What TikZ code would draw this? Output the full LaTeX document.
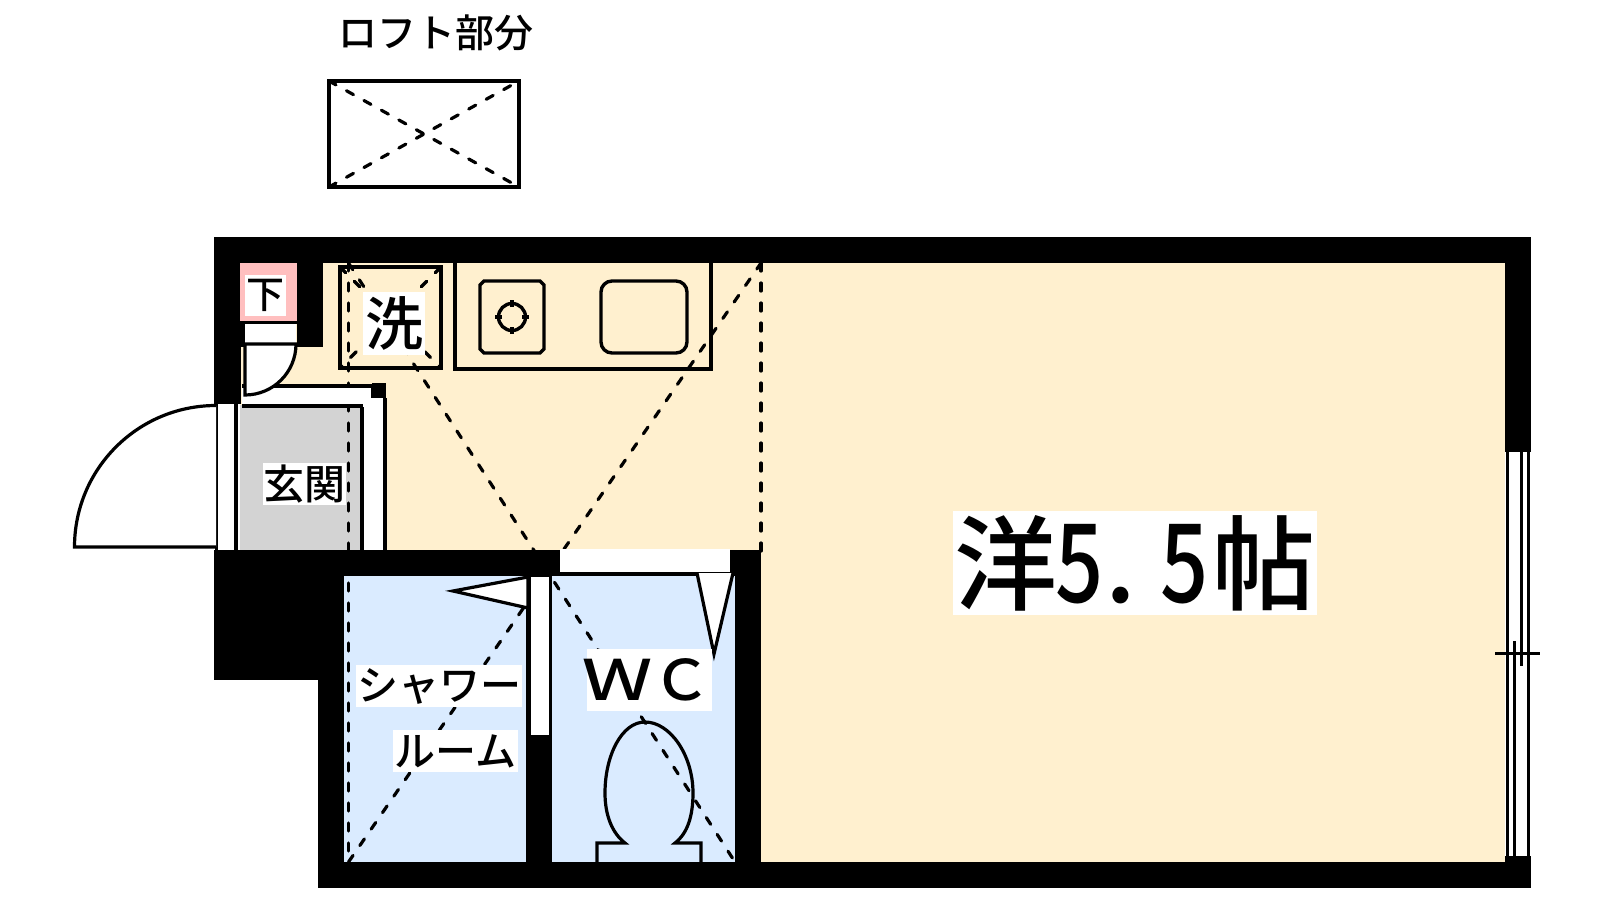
\documentclass[tikz,border=0pt]{standalone}
\usepackage{fontspec}
\setmainfont[UprightFont=* Medium]{Noto Sans CJK JP}
\usetikzlibrary{calc}

\definecolor{roomcream}{HTML}{FFF0CF}
\definecolor{roomblue}{HTML}{DAEBFF}
\definecolor{roompink}{HTML}{FFBFBF}
\definecolor{roomgray}{HTML}{D3D3D3}

\tikzset{
	wall/.style={fill=black},
	planline/.style={line width=3.2pt},
	boxline/.style={line width=3.8pt},
	hiddenline/.style={line width=3.2pt, line cap=round, dash pattern=on 8pt off 12pt},
	roomlabel/.style={fill=white, inner sep=0pt, text=black}
}
\newcommand{\labelsize}[1]{\fontsize{#1}{#1}\selectfont}

\begin{document}
\begin{tikzpicture}[x=1pt, y=-1pt, line join=miter]
		\useasboundingbox (0,0) rectangle (1600,900);
		
		% --- Loft part above the plan ---
		\node[font=\labelsize{39}] (lofttitle) at (436,33) {ロフト部分};
		\coordinate (lofta) at (329,81);
		\coordinate (loftb) at (519,187);
		\draw[hiddenline] (lofta) -- (loftb);
		\draw[hiddenline] (lofta |- loftb) -- (loftb |- lofta);
		\draw[boxline] (lofta) rectangle (loftb);
		
		% --- Floor colours ---
		\fill[roomcream] (240,263) rectangle (1505,552);
		\fill[roomcream] (761,552) rectangle (1505,862);
		\fill[roomblue] (344,576) rectangle (526,862);
		\fill[roomblue] (552,576) rectangle (735,862);
		\fill[roomgray] (240,405) rectangle (361,552);
		
		% --- Ceiling outline, dashed, runs under the walls ---
		\coordinate (ceila) at (348.5,263);
		\coordinate (ceilb) at (761,263);
		\coordinate (ceilc) at (348.5,862);
		\coordinate (ceild) at (735,862);
		\draw[hiddenline] (ceila) -- (ceilc);
		\draw[hiddenline] (ceilb) -- (761,553);
		\draw[hiddenline] (ceila) -- (ceild);
		\draw[hiddenline] (ceilc) -- (ceilb);
		
		% --- Washer ---
		\coordinate (washa) at (340,267);
		\coordinate (washb) at (441,368);
		\draw[hiddenline] (washa) -- (washb);
		\draw[hiddenline] (washb |- washa) -- (washa |- washb);
		\draw[boxline] (washa) rectangle (washb);
		
		% --- Kitchen counter, hob and sink ---
		\draw[boxline] (455,263) -- (455,369) -- (711,369) -- (711,263);
		\draw[line width=3.4pt] (484,281) -- (540,281) -- (544,285) -- (544,349) -- (540,353)
		-- (484,353) -- (480,349) -- (480,285) -- cycle;
		\coordinate (hob) at (512,317);
		\draw[line width=3.4pt] (hob) circle (13.5);
		\foreach \a in {0,90,180,270}
		\draw[line width=3.4pt] (hob) ++(\a:10) -- ++(\a:7);
		\draw[line width=3.4pt, rounded corners=11pt] (601,281) rectangle (687,353);
		
		% --- Walls ---
		\fill[wall] (214,237) rectangle (1531,263);
		\fill[wall] (214,237) rectangle (241,404);
		\fill[wall] (241,321) rectangle (245,347);
		\fill[wall] (241,321) rectangle (323,324);
		\fill[wall] (297,263) rectangle (323,347);
		\fill[wall] (1505,263) rectangle (1531,452);
		\fill[wall] (1505,856) rectangle (1531,888);
		\fill[wall] (318,862) rectangle (1531,888);
		\fill[wall] (214,550) rectangle (344,680);
		\fill[wall] (318,680) rectangle (344,862);
		\fill[wall] (214,550) rectangle (761,576);
		\fill[wall] (735,550) rectangle (761,862);
		\fill[wall] (526,576) rectangle (552,862);
		
		% --- Pink duct and the strip under it ---
		\fill[roompink] (240,263) rectangle (297,321);
		\fill[white] (245,324) rectangle (296,344);
		
		% --- Shelf above the entrance ---
		\draw[planline, fill=white] (242,386) -- (373,386) -- (373,406) -- (242,406);
		\fill[wall] (372,383) rectangle (386,398);
		\fill[white] (363,398) rectangle (384,550);
		\draw[planline] (362,407) -- (362,552);
		\draw[planline] (385,398) -- (385,552);
		
		% --- Closet door ---
		\draw[planline, fill=white] (245,344) -- (296,344) arc (0:90:51) -- cycle;
		
		% --- Entrance door ---
		\fill[white] (215,404) rectangle (237,550);
		\draw[planline] (216.5,404) -- (216.5,550);
		\draw[planline] (236,404) -- (236,550);
		\draw[planline, fill=white] (216,405.5) arc (-90:-180:141.5) -- (216,547);
		
		% --- Bathroom doors ---
		\fill[white] (560,549) rectangle (730,572);
		\fill[white] (531,577) rectangle (549,735);
		\draw[planline, fill=white] (528,577) -- (453,591) -- (528,608) -- cycle;
		\draw[planline, fill=white] (697,573) -- (714,654) -- (733,573);
		
		% --- Toilet ---
		\draw[planline] (597,862) -- (597,843) -- (625,843)
		.. controls (612,833) and (605,815) .. (605,793)
		.. controls (605,755) and (622,722) .. (645,722)
		.. controls (670,722) and (693,755) .. (693,793)
		.. controls (693,815) and (688,833) .. (675,843)
		-- (701,843) -- (701,862);
		
		% --- Window on the right wall ---
		\fill[white] (1505,452) rectangle (1531,856);
		\draw[line width=3.3pt] (1507.5,452) -- (1507.5,856);
		\draw[line width=3.3pt] (1528.5,452) -- (1528.5,856);
		\draw[line width=3.3pt] (1521.5,452) -- (1521.5,666);
		\draw[line width=3.3pt] (1514.7,641) -- (1514.7,856);
		\draw[line width=3.3pt] (1495,653.7) -- (1540,653.7);
		
		% --- Room labels ---
		\node[roomlabel, minimum width=41pt, minimum height=41pt, font=\labelsize{38}] (duct) at (265.5,295.5) {下};
		\node[roomlabel, minimum width=62pt, minimum height=63pt, font=\labelsize{58}] (washer) at (394,323.5) {洗};
		\node[roomlabel, minimum width=83pt, minimum height=42pt, font=\labelsize{41}] (entrance) at (304.5,484) {玄関};
		\node[roomlabel, minimum width=166pt, minimum height=42pt, font=\labelsize{41}] (showera) at (439,686) {シャワー};
		\node[roomlabel, minimum width=125pt, minimum height=42pt, font=\labelsize{41}] (showerb) at (455.5,751) {ルーム};
		\node[roomlabel, minimum width=125pt, minimum height=62pt, font=\labelsize{56}] (toilet) at (649.5,680)
		{\hspace{-6pt}\scalebox{1.25}[1]{Ｗ}\scalebox{1.05}[1]{Ｃ}\hspace{2pt}};
		\node[roomlabel, minimum width=364pt, minimum height=104pt, font=\labelsize{103}] (western) at (1135,563)
		{洋\hspace{-2pt}\scalebox{0.82}[1.06]{5}\hspace{2pt}.\hspace{24pt}\scalebox{0.82}[1.06]{5}\hspace{4pt}帖};
		
	\end{tikzpicture}
\end{document}
